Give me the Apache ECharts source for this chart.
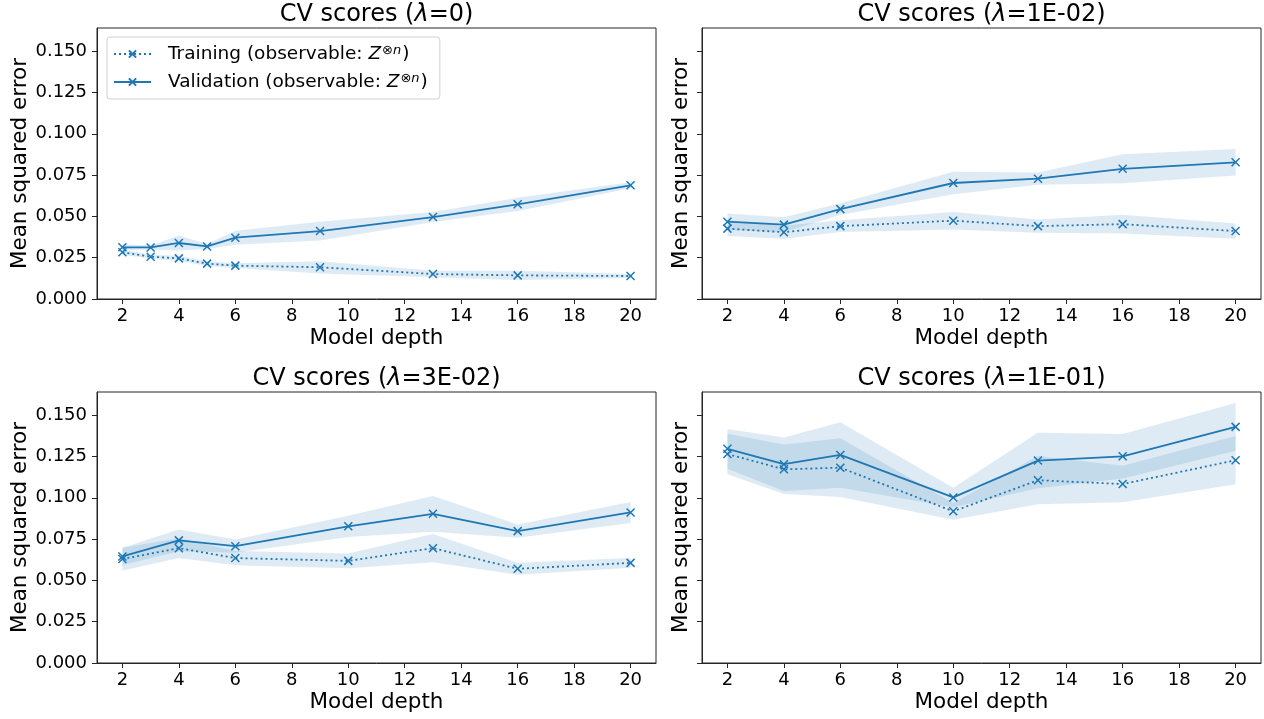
<!DOCTYPE html>
<html>
<head>
<meta charset="utf-8">
<title>CV scores</title>
<script src="https://cdn.jsdelivr.net/npm/echarts@6/dist/echarts.min.js"></script>
<style>
  html, body { margin: 0; padding: 0; background: #fff; }
  #chart { width: 1264px; height: 719px; }
</style>
</head>
<body>
<div id="chart"></div>
<script>
// model depths that were evaluated
var depthsNoReg = [2, 3, 4, 5, 6, 9, 13, 16, 20];
var depths = [2, 4, 6, 10, 13, 16, 20];

var xTicks = [2, 4, 6, 8, 10, 12, 14, 16, 18, 20];
var yTicks = [0, 0.025, 0.05, 0.075, 0.1, 0.125, 0.15];

var lambdaLabels = ['0', '1E-02', '3E-02', '1E-01'];

// lambda = 0
var trainMean0 = [0.0283, 0.0256, 0.0246, 0.0214, 0.0202, 0.0192, 0.0151, 0.0143, 0.0139];
var trainStd0 = [0.0015, 0.0012, 0.0015, 0.0015, 0.0015, 0.0037, 0.0020, 0.0028, 0.0012];
var valMean0 = [0.0313, 0.0312, 0.0339, 0.0318, 0.0371, 0.0411, 0.0496, 0.0573, 0.0688];
var valStd0 = [0.0018, 0.0012, 0.0045, 0.0015, 0.0042, 0.0057, 0.0030, 0.0040, 0.0018];

// lambda = 1E-02
var trainMean1 = [0.0426, 0.0404, 0.0441, 0.0474, 0.0441, 0.0453, 0.0411];
var trainStd1 = [0.0045, 0.0040, 0.0035, 0.0053, 0.0040, 0.0057, 0.0046];
var valMean1 = [0.0468, 0.0450, 0.0544, 0.0702, 0.0728, 0.0788, 0.0827];
var valStd1 = [0.0050, 0.0044, 0.0036, 0.0068, 0.0037, 0.0088, 0.0080];

// lambda = 3E-02
var trainMean2 = [0.0629, 0.0695, 0.0635, 0.0618, 0.0695, 0.0570, 0.0606];
var trainStd2 = [0.0069, 0.0060, 0.0043, 0.0045, 0.0085, 0.0036, 0.0030];
var valMean2 = [0.0645, 0.0742, 0.0707, 0.0827, 0.0903, 0.0798, 0.0911];
var valStd2 = [0.0052, 0.0066, 0.0040, 0.0064, 0.0108, 0.0040, 0.0064];

// lambda = 1E-01
var trainMean3 = [0.1265, 0.1172, 0.1182, 0.0918, 0.1106, 0.1083, 0.1227];
var trainStd3 = [0.0122, 0.0150, 0.0178, 0.0051, 0.0146, 0.0110, 0.0146];
var valMean3 = [0.1296, 0.1203, 0.1259, 0.1002, 0.1225, 0.1251, 0.1429];
var valStd3 = [0.0120, 0.0162, 0.0198, 0.0059, 0.0168, 0.0135, 0.0145];

var panels = [
  { x: depthsNoReg, tm: trainMean0, ts: trainStd0, vm: valMean0, vs: valStd0 },
  { x: depths, tm: trainMean1, ts: trainStd1, vm: valMean1, vs: valStd1 },
  { x: depths, tm: trainMean2, ts: trainStd2, vm: valMean2, vs: valStd2 },
  { x: depths, tm: trainMean3, ts: trainStd3, vm: valMean3, vs: valStd3 }
];

var FONT = 'DejaVu Sans';
var BLUE = '#1f77b4';
var AXIS = '#262626';
var X_MARK = 'path://M0,0L10,10M10,0L0,10';

var boxes = [[97, 28], [702, 28], [97, 392], [702, 392]];
var boxW = 559, boxH = 271;

function pairs(xs, ys) {
  return xs.map(function (x, i) { return [x, ys[i]]; });
}

// mean +/- std band as one polygon, positioned through the axes
function bandSeries(k, xs, mean, std) {
  var rows = xs.map(function (x, i) { return [x, mean[i] - std[i], mean[i] + std[i]]; });
  return {
    type: 'custom', xAxisIndex: k, yAxisIndex: k, silent: true, z: 1,
    data: rows,
    encode: { x: 0, y: [1, 2] },
    renderItem: function (params, api) {
      if (params.dataIndex !== 0) return;
      var pts = [];
      rows.forEach(function (r) { pts.push(api.coord([r[0], r[2]])); });
      for (var i = rows.length - 1; i >= 0; i--) pts.push(api.coord([rows[i][0], rows[i][1]]));
      return {
        type: 'polygon',
        shape: { points: pts },
        style: { fill: BLUE, opacity: 0.15 }
      };
    }
  };
}

var grids = [], xAxes = [], yAxes = [], titles = [], series = [];

panels.forEach(function (p, k) {
  var left = boxes[k][0], top = boxes[k][1];
  grids.push({
    left: left, top: top, width: boxW, height: boxH,
    show: true, borderColor: AXIS, borderWidth: 1, backgroundColor: 'transparent'
  });
  titles.push({
    text: 'CV scores ({l|λ}=' + lambdaLabels[k] + ')',
    left: left + boxW / 2, top: top - 25, textAlign: 'center', padding: 0,
    textStyle: {
      fontFamily: FONT, fontSize: 24, fontWeight: 'normal', color: '#000',
      rich: { l: { fontFamily: FONT, fontSize: 24, fontStyle: 'italic', color: '#000' } }
    }
  });
  xAxes.push({
    type: 'value', gridIndex: k, min: 1.1, max: 20.9,
    name: 'Model depth', nameLocation: 'middle', nameGap: 28,
    nameTextStyle: { fontFamily: FONT, fontSize: 21.5, color: '#000' },
    axisLine: { show: true, lineStyle: { color: AXIS, width: 1 } },
    axisTick: { show: true, length: 5, lineStyle: { color: AXIS }, customValues: xTicks },
    axisLabel: { fontFamily: FONT, fontSize: 18, color: '#000', margin: 8, customValues: xTicks },
    splitLine: { show: false }
  });
  yAxes.push({
    type: 'value', gridIndex: k, min: 0, max: 0.164,
    name: 'Mean squared error', nameLocation: 'middle', nameGap: k % 2 === 0 ? 65 : 10,
    nameTextStyle: { fontFamily: FONT, fontSize: 21.5, color: '#000' },
    axisLine: { show: true, lineStyle: { color: AXIS, width: 1 } },
    axisTick: { show: true, length: 5, lineStyle: { color: AXIS }, customValues: yTicks },
    axisLabel: {
      show: k % 2 === 0, fontFamily: FONT, fontSize: 18, color: '#000', margin: 10,
      customValues: yTicks,
      formatter: function (v) { return v.toFixed(3); }
    },
    splitLine: { show: false }
  });

  series.push(bandSeries(k, p.x, p.tm, p.ts));
  series.push(bandSeries(k, p.x, p.vm, p.vs));

  series.push({
    type: 'line', name: 'Training', xAxisIndex: k, yAxisIndex: k,
    data: pairs(p.x, p.tm), symbol: X_MARK, symbolSize: 8, z: 3,
    lineStyle: { color: BLUE, width: 1.8, type: [2, 3] },
    itemStyle: { color: BLUE, borderColor: BLUE, borderWidth: 1.5 }
  });
  series.push({
    type: 'line', name: 'Validation', xAxisIndex: k, yAxisIndex: k,
    data: pairs(p.x, p.vm), symbol: X_MARK, symbolSize: 8, z: 3,
    lineStyle: { color: BLUE, width: 1.8 },
    itemStyle: { color: BLUE, borderColor: BLUE, borderWidth: 1.5 }
  });
});

var chart = echarts.init(document.getElementById('chart'), null, { renderer: 'canvas' });
chart.setOption({
  animation: false,
  backgroundColor: '#fff',
  title: titles,
  legend: {
    data: ['Training', 'Validation'],
    orient: 'vertical', left: 107, top: 37,
    padding: [7, 12, 7, 6], itemGap: 8, itemWidth: 37, itemHeight: 9,
    borderColor: '#d0d0d0', borderWidth: 1, borderRadius: 3,
    backgroundColor: 'rgba(255,255,255,0.8)',
    formatter: function (name) {
      return '{t|' + name + ' (observable: }{z|Z}{s|⊗}{n|n}{t|)}';
    },
    textStyle: {
      fontFamily: FONT, fontSize: 18.5, color: '#000', padding: [0, 0, 0, 12], lineHeight: 20,
      rich: {
        t: { fontFamily: FONT, fontSize: 18.5, color: '#000', lineHeight: 20 },
        z: { fontFamily: FONT, fontSize: 18.5, fontStyle: 'italic', color: '#000', lineHeight: 20 },
        s: { fontFamily: FONT, fontSize: 13, color: '#000', verticalAlign: 'top', padding: [0, 0, 7, 1] },
        n: { fontFamily: FONT, fontSize: 13, fontStyle: 'italic', color: '#000', verticalAlign: 'top', padding: [0, 1, 7, 0] }
      }
    }
  },
  grid: grids,
  xAxis: xAxes,
  yAxis: yAxes,
  series: series
});
</script>
</body>
</html>
